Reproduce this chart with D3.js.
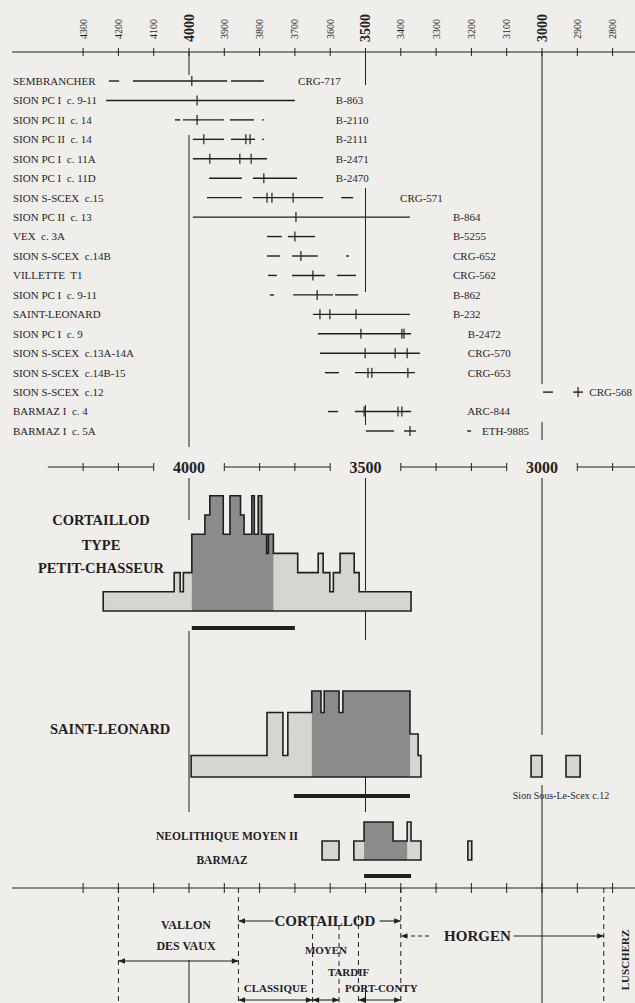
<!DOCTYPE html>
<html>
<head>
<meta charset="utf-8">
<script src="https://cdn.jsdelivr.net/npm/d3@7"></script>
<style>
  body { margin: 0; background: #efeeeb; }
  svg { display: block; font-family: "Liberation Serif", "DejaVu Serif", serif; }
</style>
</head>
<body>
<svg id="chart" width="635" height="1003"></svg>
<script>
// DATA (years BC)
const yearTicks = [4300, 4200, 4100, 4000, 3900, 3800, 3700, 3600, 3500, 3400, 3300, 3200, 3100, 3000, 2900, 2800];
const majorYears = [4000, 3500, 3000];

const sites = [
  'SEMBRANCHER', 'SION PC I  c. 9-11', 'SION PC II  c. 14', 'SION PC II  c. 14', 'SION PC I  c. 11A',
  'SION PC I  c. 11D', 'SION S-SCEX  c.15', 'SION PC II  c. 13', 'VEX  c. 3A', 'SION S-SCEX  c.14B',
  'VILLETTE  T1', 'SION PC I  c. 9-11', 'SAINT-LEONARD', 'SION PC I  c. 9', 'SION S-SCEX  c.13A-14A',
  'SION S-SCEX  c.14B-15', 'SION S-SCEX  c.12', 'BARMAZ I  c. 4', 'BARMAZ I  c. 5A'
];
const labCodes = [
  'CRG-717', 'B-863', 'B-2110', 'B-2111', 'B-2471', 'B-2470', 'CRG-571', 'B-864', 'B-5255', 'CRG-652',
  'CRG-562', 'B-862', 'B-232', 'B-2472', 'CRG-570', 'CRG-653', 'CRG-568', 'ARC-844', 'ETH-9885'
];
// year at which each lab code label starts
const labCodeAt = [3691, 3584, 3584, 3584, 3584, 3584, 3402, 3252, 3252, 3252, 3252, 3252, 3252, 3210, 3210, 3210, 2866, 3212, 3170];

// calibrated ranges per sample: [from, to]
const ranges = [
  [[4227, 4198], [4159, 3892], [3881, 3788]],
  [[4235, 3700]],
  [[4040, 4025], [4017, 3901], [3884, 3816], [3793, 3788]],
  [[3989, 3901], [3881, 3813], [3793, 3788]],
  [[3989, 3779]],
  [[3943, 3850], [3819, 3694]],
  [[3949, 3850], [3819, 3620], [3569, 3535]],
  [[3989, 3374]],
  [[3779, 3737], [3720, 3643]],
  [[3779, 3742], [3708, 3635], [3555, 3547]],
  [[3776, 3751], [3708, 3615], [3581, 3527]],
  [[3771, 3759], [3705, 3592], [3586, 3521]],
  [[3649, 3374]],
  [[3635, 3371]],
  [[3629, 3346]],
  [[3615, 3575], [3530, 3360]],
  [[2997, 2969], [2912, 2884]],
  [[3606, 3578], [3530, 3371]],
  [[3499, 3419], [3391, 3357], [3212, 3201]]
];
// intercepts
const crosses = [
  [3992], [3977], [3977], [3958, 3839, 3827], [3941, 3856, 3824], [3788], [3779, 3765, 3705],
  [3697], [3700], [3683], [3649], [3637], [3629, 3601, 3527], [3513, 3397, 3391], [3501, 3416, 3382],
  [3493, 3482, 3380], [2898], [3504, 3408, 3397], [3374]
];

// summed histograms: [from, to, count]
const pcSteps = [
  [4243, 4042, 1], [4042, 4025, 2], [4025, 4016, 1], [4016, 3992, 2], [3992, 3955, 4], [3955, 3941, 5],
  [3941, 3903, 6], [3903, 3884, 4], [3884, 3854, 6], [3854, 3844, 5], [3844, 3822, 4], [3822, 3815, 6],
  [3815, 3804, 4], [3804, 3794, 6], [3794, 3780, 4], [3780, 3775, 3], [3775, 3761, 4], [3761, 3692, 3],
  [3692, 3634, 2], [3634, 3620, 3], [3620, 3601, 2], [3601, 3591, 1], [3591, 3572, 2], [3572, 3532, 3],
  [3532, 3518, 2], [3518, 3371, 1]
];
const pcDark = [3992, 3761];
const pcBar = [3992, 3700];

const slSteps = [
  [3994, 3779, 1], [3779, 3734, 3], [3734, 3720, 1], [3720, 3652, 3], [3652, 3626, 4], [3626, 3617, 3],
  [3617, 3575, 4], [3575, 3564, 3], [3564, 3374, 4], [3374, 3351, 2], [3351, 3343, 1]
];
const slDark = [3652, 3374];
const slBar = [3703, 3374];
const sionSteps = [[[3031, 3000, 1]], [[2932, 2892, 1]]];

const barmazSteps = [
  [[3623, 3575, 1]],
  [[3533, 3504, 1], [3504, 3422, 2], [3422, 3382, 1], [3382, 3371, 2], [3371, 3343, 1]],
  [[3210, 3199, 1]]
];
const barmazDark = [3504, 3382];
const barmazBar = [3504, 3371];

const periodBounds = [4200, 3860, 3650, 3575, 3520, 3400, 2825];

// LAYOUT
const ink = '#1f1f1f';
const svg = d3.select('#chart');
const x = d3.scaleLinear().domain([4000, 3000]).range([189, 542]);
const rowY = d3.scaleLinear().domain([0, sites.length - 1]).range([81, 431]);

// arrow markers
const defs = svg.append('defs');
defs.append('marker').attr('id', 'ah').attr('viewBox', '0 0 10 10')
  .attr('refX', 10).attr('refY', 5).attr('markerWidth', 9).attr('markerHeight', 6)
  .attr('orient', 'auto-start-reverse')
  .append('path').attr('d', 'M0,1L10,5L0,9Z').attr('fill', ink);

function vline(g, year, y1, y2, dash) {
  g.append('line')
    .attr('x1', x(year)).attr('x2', x(year)).attr('y1', y1).attr('y2', y2)
    .attr('stroke', ink).attr('stroke-width', 1)
    .attr('stroke-dasharray', dash || null);
}

// TOP AXIS
const topG = svg.append('g');
topG.append('line').attr('x1', 12).attr('x2', 635).attr('y1', 52).attr('y2', 52)
  .attr('stroke', ink).attr('stroke-width', 1.2);
topG.selectAll('.tk').data(yearTicks).join('line')
  .attr('x1', d => x(d)).attr('x2', d => x(d)).attr('y1', 48).attr('y2', 56)
  .attr('stroke', ink);
topG.selectAll('.tl').data(yearTicks).join('text')
  .attr('transform', d => `translate(${x(d)},${majorYears.includes(d) ? 42 : 39}) rotate(-90)`)
  .attr('dy', '0.35em')
  .attr('font-size', d => majorYears.includes(d) ? 14 : 10)
  .attr('font-weight', d => majorYears.includes(d) ? 'bold' : 'normal')
  .attr('fill', ink)
  .text(d => d);

// reference lines through the dated samples
vline(topG, 4000, 52, 75); vline(topG, 4000, 135, 447);
vline(topG, 3500, 52, 85); vline(topG, 3500, 188, 292); vline(topG, 3500, 405, 425);
vline(topG, 3000, 52, 384); vline(topG, 3000, 422, 440);

// SAMPLE ROWS
const rows = svg.append('g').selectAll('g').data(sites).join('g')
  .attr('transform', (d, i) => `translate(0,${rowY(i)})`);
rows.append('text').attr('x', 13).attr('dy', '0.35em').attr('font-size', 11).attr('fill', ink)
  .style('white-space', 'pre').text(d => d);
rows.append('text').attr('x', (d, i) => x(labCodeAt[i])).attr('dy', '0.35em')
  .attr('font-size', 11).attr('fill', ink).text((d, i) => labCodes[i]);
rows.selectAll('.seg').data((d, i) => ranges[i]).join('line')
  .attr('x1', d => x(d[0])).attr('x2', d => x(d[1])).attr('stroke', ink).attr('stroke-width', 1.4);
rows.selectAll('.cr').data((d, i) => crosses[i]).join('line')
  .attr('x1', d => x(d)).attr('x2', d => x(d)).attr('y1', -5).attr('y2', 5)
  .attr('stroke', ink).attr('stroke-width', 1.2);

// SECOND AXIS (broken by the labels)
const midG = svg.append('g');
const axY = 467;
const axisPieces = [[4400, 4100], [3900, 3600], [3400, 3100], [2900, 2700]];
axisPieces.forEach(([a, b]) => {
  midG.append('line').attr('x1', Math.max(12, x(a))).attr('x2', Math.min(635, x(b)))
    .attr('y1', axY).attr('y2', axY).attr('stroke', ink).attr('stroke-width', 1);
});
midG.selectAll('.t2').data(yearTicks.filter(d => !majorYears.includes(d))).join('line')
  .attr('x1', d => x(d)).attr('x2', d => x(d)).attr('y1', axY - 4).attr('y2', axY + 4)
  .attr('stroke', ink);
midG.selectAll('.l2').data(majorYears).join('text')
  .attr('x', d => x(d)).attr('y', axY).attr('dy', '0.36em').attr('text-anchor', 'middle')
  .attr('font-size', 16).attr('font-weight', 'bold').attr('fill', ink).text(d => d);

// HISTOGRAMS
let clipId = 0;
function histogram(g, steps, base, unit, dark) {
  const hy = v => base - v * unit;
  const p = d3.path();
  p.moveTo(x(steps[0][0]), base);
  steps.forEach(([a, b, v]) => { p.lineTo(x(a), hy(v)); p.lineTo(x(b), hy(v)); });
  p.lineTo(x(steps[steps.length - 1][1]), base);
  p.closePath();
  g.append('path').attr('d', p.toString()).attr('fill', '#d5d5d2');
  if (dark) {
    const id = 'clip' + (clipId++);
    g.append('clipPath').attr('id', id).append('rect')
      .attr('x', x(dark[0])).attr('width', x(dark[1]) - x(dark[0]))
      .attr('y', 0).attr('height', 1003);
    g.append('path').attr('d', p.toString()).attr('fill', '#8b8b89').attr('clip-path', `url(#${id})`);
  }
  g.append('path').attr('d', p.toString()).attr('fill', 'none')
    .attr('stroke', ink).attr('stroke-width', 1.6).attr('stroke-linejoin', 'miter');
}
function thickBar(g, range, y) {
  g.append('line').attr('x1', x(range[0])).attr('x2', x(range[1])).attr('y1', y).attr('y2', y)
    .attr('stroke', ink).attr('stroke-width', 4);
}

const lowG = svg.append('g');
// guide lines behind the histograms
vline(lowG, 4000, 478, 520); vline(lowG, 4000, 631, 812); vline(lowG, 4000, 960, 1003);
vline(lowG, 3500, 478, 640); vline(lowG, 3500, 765, 812); vline(lowG, 3500, 985, 1003);
vline(lowG, 3000, 478, 735); vline(lowG, 3000, 785, 1003);

// Petit-Chasseur
histogram(lowG, pcSteps, 611, 19.2, pcDark);
thickBar(lowG, pcBar, 628);
[['CORTAILLOD', 520], ['TYPE', 545], ['PETIT-CHASSEUR', 568]].forEach(([t, y]) => {
  lowG.append('text').attr('x', 101).attr('y', y).attr('dy', '0.35em').attr('text-anchor', 'middle')
    .attr('font-size', 14.5).attr('font-weight', 'bold').attr('fill', ink).text(t);
});

// Saint-Leonard
histogram(lowG, slSteps, 777, 21.5, slDark);
thickBar(lowG, slBar, 796);
lowG.append('text').attr('x', 50).attr('y', 729).attr('dy', '0.35em')
  .attr('font-size', 14.5).attr('font-weight', 'bold').attr('fill', ink).text('SAINT-LEONARD');
sionSteps.forEach(s => histogram(lowG, s, 777, 21.5, null));
lowG.append('text').attr('x', 561).attr('y', 795).attr('dy', '0.35em').attr('text-anchor', 'middle')
  .attr('font-size', 10).attr('fill', ink).text('Sion Sous-Le-Scex c.12');

// Barmaz
barmazSteps.forEach((s, i) => histogram(lowG, s, 860, 19, i === 1 ? barmazDark : null));
thickBar(lowG, barmazBar, 876);
lowG.append('text').attr('x', 227).attr('y', 836).attr('dy', '0.35em').attr('text-anchor', 'middle')
  .attr('font-size', 11.5).attr('font-weight', 'bold').attr('fill', ink).text('NEOLITHIQUE MOYEN II');
lowG.append('text').attr('x', 222).attr('y', 860).attr('dy', '0.35em').attr('text-anchor', 'middle')
  .attr('font-size', 11.5).attr('font-weight', 'bold').attr('fill', ink).text('BARMAZ');

// BOTTOM AXIS
const botG = svg.append('g');
const axY3 = 888;
botG.append('line').attr('x1', 12).attr('x2', 635).attr('y1', axY3).attr('y2', axY3)
  .attr('stroke', ink).attr('stroke-width', 1.1);
botG.selectAll('.t3').data(yearTicks).join('line')
  .attr('x1', d => x(d)).attr('x2', d => x(d)).attr('y1', axY3 - 5).attr('y2', axY3 + 5)
  .attr('stroke', ink);

// period boundaries (dashed)
const dashStart = [axY3, axY3, 925, 925, 915, axY3, axY3];
periodBounds.forEach((b, i) => vline(botG, b, dashStart[i], 1003, '5,4'));

function arrow(g, a, b, y, both, dash) {
  g.append('line').attr('x1', x(a)).attr('x2', x(b)).attr('y1', y).attr('y2', y)
    .attr('stroke', ink).attr('stroke-width', 1.1)
    .attr('stroke-dasharray', dash || null)
    .attr('marker-end', 'url(#ah)')
    .attr('marker-start', both ? 'url(#ah)' : null);
}
function label(g, t, xx, y, size) {
  g.append('text').attr('x', xx).attr('y', y).attr('dy', '0.35em').attr('text-anchor', 'middle')
    .attr('font-size', size).attr('font-weight', 'bold').attr('fill', ink).text(t);
}

// Vallon des Vaux
label(botG, 'VALLON', 186, 925, 12);
label(botG, 'DES VAUX', 186, 946, 12);
arrow(botG, periodBounds[0], periodBounds[1], 961, true);

// Cortaillod
arrow(botG, 3760, periodBounds[1], 921, false);
arrow(botG, 3460, periodBounds[5], 921, false);
label(botG, 'CORTAILLOD', x(3615), 921, 15);
label(botG, 'MOYEN', x(3612), 950, 11);
label(botG, 'TARDIF', x(3548), 972, 11);
label(botG, 'CLASSIQUE', x(3755), 988, 11);
label(botG, 'PORT-CONTY', x(3455), 988, 11);
arrow(botG, periodBounds[1], periodBounds[2], 1000, true);
arrow(botG, periodBounds[2], periodBounds[3], 1000, true);
arrow(botG, periodBounds[4], periodBounds[5], 1000, true);

// Horgen
arrow(botG, 3320, periodBounds[5], 936, false, '4,3');
label(botG, 'HORGEN', x(3183), 936, 15);
arrow(botG, 3080, periodBounds[6], 936, false);

// Luscherz
botG.append('text').attr('transform', `translate(${x(2770) + 2},960) rotate(-90)`)
  .attr('dy', '0.35em').attr('text-anchor', 'middle')
  .attr('font-size', 11).attr('font-weight', 'bold').attr('fill', ink).text('LUSCHERZ');
</script>
</body>
</html>
